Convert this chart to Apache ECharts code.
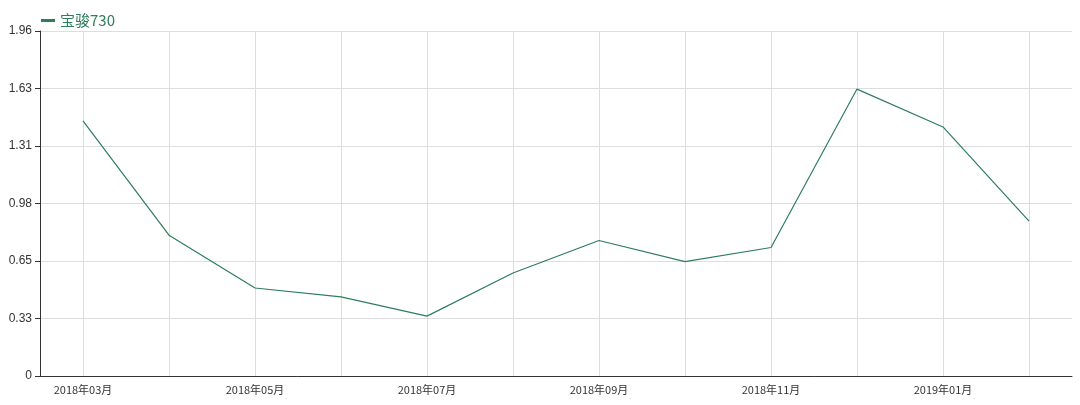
<!DOCTYPE html>
<html><head><meta charset="utf-8">
<script src="https://cdn.jsdelivr.net/npm/echarts@6/dist/echarts.min.js"></script>
<style>html,body{margin:0;padding:0;background:#fff}#c{width:1080px;height:405px}</style>
</head><body><div id="c"></div>
<script>
const categories=['2018年03月','2018年04月','2018年05月','2018年06月','2018年07月','2018年08月','2018年09月','2018年10月','2018年11月','2018年12月','2019年01月','2019年02月'];
const values=[1.45,0.80,0.50,0.45,0.34,0.585,0.77,0.65,0.73,1.63,1.415,0.88];
const seriesName='宝骏730';
const chart=echarts.init(document.getElementById('c'));
chart.setOption({
  animation:false,
  legend:{left:36,top:8,itemWidth:14,itemHeight:3,icon:'rect',data:[seriesName],textStyle:{color:'#2e7d5b',fontSize:15,fontFamily:'Noto Sans CJK SC'}},
  grid:[{left:40,right:8,top:31,bottom:29},{left:83,right:51,top:31,bottom:29}],
  xAxis:[{type:'category',data:categories,boundaryGap:true,gridIndex:0,
    axisLine:{lineStyle:{color:'#333'}},axisTick:{lineStyle:{color:'#333'}},
    axisLabel:{interval:1,color:'#333',fontSize:11,fontFamily:'Noto Sans CJK SC'},splitLine:{show:false}},
    {type:'value',gridIndex:1,min:0,max:11,interval:1,axisLine:{show:false},axisTick:{show:false},axisLabel:{show:false},
    splitLine:{show:true,lineStyle:{color:'#ddd'}}}],
  yAxis:[{type:'value',gridIndex:0,min:0,max:1.96,interval:0.32667,
    axisLine:{show:true,lineStyle:{color:'#333'}},axisTick:{show:true},
    axisLabel:{color:'#333',fontSize:12,formatter:v=>String(Math.round(v*100)/100)},
    splitLine:{lineStyle:{color:'#ddd'}}},
    {type:'value',gridIndex:1,min:0,max:1,show:false,splitLine:{show:false}}],
  series:[{name:seriesName,type:'line',data:values,xAxisIndex:0,yAxisIndex:0,symbol:'none',
    lineStyle:{color:'#2e7d5b',width:1.2},itemStyle:{color:'#2e7d5b'}},
    {type:'line',data:[],xAxisIndex:1,yAxisIndex:1}]
});
</script></body></html>
